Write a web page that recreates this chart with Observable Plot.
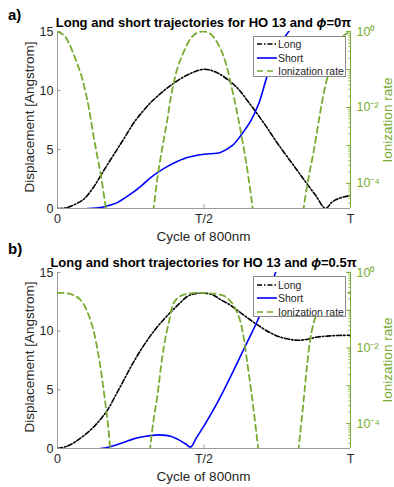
<!DOCTYPE html>
<html><head><meta charset="utf-8">
<script src="https://cdn.jsdelivr.net/npm/d3@7"></script>
<script src="https://cdn.jsdelivr.net/npm/@observablehq/plot@0.6"></script>
<style>
body{margin:0;background:#fff;}
#root{position:relative;width:394px;height:487px;overflow:hidden;font-family:"Liberation Sans",Arial,sans-serif;color:#262626;background:#fff;}
.panel{position:absolute;left:0;width:394px;}
.panel svg{position:absolute;left:0;top:0;}
.lbl{position:absolute;white-space:nowrap;line-height:1;transform:translate(-50%,-50%);}
.rot{transform:translate(-50%,-50%) rotate(-90deg);}
.legend{position:absolute;background:#fff;border:1px solid #8a8a8a;box-sizing:border-box;}
.legend .row{position:absolute;left:1px;height:14px;display:flex;align-items:center;font-size:10.5px;color:#262626;white-space:nowrap;}
</style></head><body><div id="root"></div>
<script>
// ---------- data ----------
const xTicks = [0, 0.5, 1];
const xTickLabels = ["0", "T/2", "T"];
const yTicks = [0, 5, 10, 15];
const rateTicks = [1, 1e-2, 1e-4];
const rateTickLabels = ["10⁰", "10⁻²", "10⁻⁴"];

// Panel a (phi = 0 pi)
const longA_t = [0, 0.033, 0.06, 0.09, 0.12, 0.147, 0.175, 0.204, 0.23, 0.26, 0.29, 0.317, 0.345, 0.374, 0.414, 0.45, 0.5, 0.545, 0.59, 0.62, 0.648, 0.681, 0.715, 0.75, 0.8, 0.841, 0.88, 0.915, 0.935, 0.955, 0.98, 1];
const longA   = [0, 0.08, 0.35, 0.8, 1.7, 2.77, 3.9, 5.03, 6.05, 7.25, 8.2, 8.95, 9.6, 10.2, 10.9, 11.4, 11.8, 11.5, 10.75, 10.05, 9.15, 8.05, 6.85, 5.55, 3.85, 2.45, 1.15, 0, 0.5, 0.8, 1.0, 1.08];
const shortA_t = [0.101, 0.13, 0.147, 0.175, 0.204, 0.23, 0.26, 0.29, 0.317, 0.345, 0.374, 0.414, 0.443, 0.5, 0.556, 0.596, 0.625, 0.659, 0.687, 0.716, 0.75, 0.81];
const shortA   = [0, 0.03, 0.08, 0.25, 0.5, 0.9, 1.4, 2.0, 2.6, 3.1, 3.55, 4.05, 4.33, 4.6, 4.75, 5.32, 6.17, 7.4, 8.9, 11.26, 13.5, 15.7];
// ionization rate: time and log10(rate), one list per lobe
const ionA_t = [
  [0, 0.022, 0.04, 0.056, 0.07, 0.084, 0.096, 0.107, 0.124, 0.135, 0.147, 0.164, 0.172],
  [0.322, 0.329, 0.342, 0.358, 0.374, 0.39, 0.41, 0.43, 0.454, 0.475, 0.5, 0.525, 0.556, 0.575, 0.59, 0.608, 0.625, 0.645, 0.664, 0.672],
  [0.835, 0.841, 0.858, 0.875, 0.895, 0.915, 0.935, 0.955, 0.975, 1]
];
const ionA_log = [
  [0, -0.10, -0.32, -0.62, -0.9, -1.23, -1.6, -2.01, -2.79, -3.25, -3.74, -4.59, -5.0],
  [-5.0, -4.6, -3.8, -3.05, -2.36, -1.6, -0.95, -0.55, -0.19, -0.04, 0, -0.08, -0.45, -0.85, -1.32, -1.95, -2.62, -3.5, -4.52, -5.0],
  [-5.0, -4.6, -3.8, -3.13, -2.2, -1.40, -0.85, -0.42, -0.12, 0]
];

// Panel b (phi = 0.5 pi)
const longB_t = [0, 0.033, 0.06, 0.09, 0.12, 0.147, 0.17, 0.2, 0.23, 0.257, 0.287, 0.317, 0.345, 0.374, 0.414, 0.443, 0.47, 0.5, 0.53, 0.556, 0.585, 0.613, 0.645, 0.681, 0.727, 0.76, 0.806, 0.829, 0.86, 0.886, 0.92, 0.955, 1];
const longB   = [0, 0.2, 0.55, 1.1, 1.75, 2.5, 3.25, 4.6, 6.0, 7.25, 8.5, 9.6, 10.5, 11.3, 12.3, 12.95, 13.2, 13.24, 13.1, 12.7, 12.3, 11.8, 11.2, 10.56, 9.85, 9.5, 9.25, 9.23, 9.35, 9.5, 9.58, 9.63, 9.65];
const shortB_t = [0.147, 0.17, 0.2, 0.23, 0.257, 0.287, 0.317, 0.346, 0.37, 0.386, 0.405, 0.42, 0.438, 0.454, 0.475, 0.5, 0.53, 0.556, 0.6, 0.65, 0.681, 0.71, 0.744, 0.752];
const shortB   = [0, 0.08, 0.3, 0.55, 0.8, 0.98, 1.1, 1.16, 1.12, 1.04, 0.85, 0.65, 0.38, 0.12, 0.95, 1.93, 3.2, 4.4, 6.6, 9.2, 10.8, 12.6, 15, 15.6];
const ionB_t = [
  [0, 0.02, 0.04, 0.06, 0.075, 0.09, 0.107, 0.125, 0.14, 0.152, 0.164, 0.172, 0.179, 0.185],
  [0.312, 0.317, 0.328, 0.34, 0.357, 0.368, 0.38, 0.397, 0.42, 0.454, 0.49, 0.53, 0.568, 0.595, 0.613, 0.625, 0.636, 0.647, 0.664, 0.684, 0.69],
  [0.819, 0.824, 0.841, 0.852, 0.863, 0.875, 0.89, 0.91, 0.935, 0.96, 0.98, 1]
];
const ionB_log = [
  [-0.54, -0.54, -0.56, -0.62, -0.7, -0.85, -1.14, -1.6, -2.2, -2.8, -3.5, -4.0, -4.6, -5.0],
  [-5.0, -4.59, -3.9, -3.31, -2.27, -1.75, -1.32, -0.80, -0.62, -0.55, -0.54, -0.56, -0.62, -0.80, -1.06, -1.32, -1.75, -2.35, -3.31, -4.59, -5.0],
  [-5.0, -4.59, -3.31, -2.44, -1.75, -1.32, -1.0, -0.76, -0.62, -0.56, -0.54, -0.54]
];

// ---------- styling ----------
const GREEN = "#77AC30";
const AXIS = "#9a9a9a";
const FONT = "'Liberation Sans', Arial, sans-serif";
const rateMin = Math.pow(10, -4.66);

const toRows = (t, v) => t.map((x, i) => ({x, y: v[i]}));
const toIon = (T, L) => T.flatMap((seg, s) => seg.map((x, i) => ({x, y: Math.pow(10, L[s][i]), seg: s})));

const minorTicks = [];
for (let d = -5; d < 0; d++) for (let k = 2; k <= 9; k++) { const v = k * Math.pow(10, d); if (v >= rateMin) minorTicks.push(v); }
const decadeTicks = [1, 1e-1, 1e-2, 1e-3, 1e-4];

const root = document.getElementById("root");

function addLabel(html, x, y, css, cls) {
  const el = document.createElement("div");
  el.className = "lbl" + (cls ? " " + cls : "");
  el.innerHTML = html;
  el.style.left = x + "px"; el.style.top = y + "px";
  Object.assign(el.style, css || {});
  root.appendChild(el);
}

function legend(top) {
  const lg = document.createElement("div");
  lg.className = "legend";
  Object.assign(lg.style, {left: "253px", top: top + "px", width: "93px", height: "41px"});
  const items = [
    {name: "Long", stroke: "#000", dash: "5,2,1.5,2"},
    {name: "Short", stroke: "#0000ff", dash: null},
    {name: "Ionization rate", stroke: GREEN, dash: "6,4"}
  ];
  items.forEach((it, i) => {
    const row = document.createElement("div");
    row.className = "row";
    row.style.top = (0.5 + i * 13.5) + "px";
    row.innerHTML = `<svg width="22" height="6" style="position:static;margin-right:1px"><line x1="2" x2="22" y1="3" y2="3" stroke="${it.stroke}" stroke-width="1.6" ${it.dash ? `stroke-dasharray="${it.dash}"` : ""}/></svg><span>${it.name}</span>`;
    lg.appendChild(row);
  });
  root.appendChild(lg);
}

function panel(cfg) {
  const div = document.createElement("div");
  div.className = "panel";
  div.style.top = cfg.top + "px";
  div.style.height = cfg.h + "px";
  root.appendChild(div);
  const common = {
    width: 394, height: cfg.h, marginLeft: 57, marginRight: 44, marginTop: cfg.mt, marginBottom: cfg.mb,
    style: {fontFamily: FONT, fontSize: "12.5px", background: "transparent", color: "#262626", overflow: "visible"}
  };
  const base = Plot.plot({
    ...common,
    x: {domain: [0, 1]},
    y: {domain: [0, 15]},
    marks: [
      Plot.ruleX([0], {stroke: AXIS}),
      Plot.ruleY([0], {stroke: AXIS}),
      Plot.axisX({ticks: xTicks, tickSize: 0, tickPadding: 6, tickFormat: d => xTickLabels[xTicks.indexOf(d)], label: null, fill: "#262626"}),
      Plot.ruleX(xTicks, {y1: 0, y2: 0.3, stroke: AXIS}),
      Plot.axisY({ticks: yTicks, tickSize: 0, tickPadding: 4, label: null, fill: "#262626"}),
      Plot.ruleY(yTicks, {x1: 0, x2: 0.012, stroke: AXIS}),
      Plot.line(toRows(cfg.longT, cfg.long), {x: "x", y: "y", curve: "catmull-rom", stroke: "#000", strokeWidth: 1.6, strokeDasharray: "5,2,1.5,2", clip: true}),
      Plot.line(toRows(cfg.shortT, cfg.short), {x: "x", y: "y", curve: "catmull-rom", stroke: "#0000ff", strokeWidth: 1.6, clip: true})
    ]
  });
  div.appendChild(base);
  const over = Plot.plot({
    ...common,
    x: {domain: [0, 1], axis: null},
    y: {type: "log", domain: [rateMin, 1], axis: null},
    marks: [
      Plot.ruleX([1], {stroke: GREEN}),
      Plot.axisY({anchor: "right", ticks: rateTicks, tickSize: 0, tickPadding: 6, tickFormat: d => rateTickLabels[rateTicks.indexOf(d)], label: null, fill: GREEN}),
      Plot.ruleY(minorTicks, {x1: 0.994, x2: 1, stroke: GREEN, strokeWidth: 0.8}),
      Plot.ruleY(decadeTicks, {x1: 0.987, x2: 1, stroke: GREEN}),
      Plot.line(toIon(cfg.ionT, cfg.ionL), {x: "x", y: "y", z: "seg", curve: "catmull-rom", stroke: GREEN, strokeWidth: 1.8, strokeDasharray: "6,4", clip: true})
    ]
  });
  div.appendChild(over);
}

panel({top: 0, h: 243, mt: 31, mb: 35, longT: longA_t, long: longA, shortT: shortA_t, short: shortA, ionT: ionA_t, ionL: ionA_log});
panel({top: 243, h: 244, mt: 29, mb: 39, longT: longB_t, long: longB, shortT: shortB_t, short: shortB, ionT: ionB_t, ionL: ionB_log});

legend(35.5);
legend(276);

const titleCss = {fontWeight: "bold", fontSize: "13px", color: "#000"};
const axCss = {fontSize: "13.5px", color: "#262626"};
const panCss = {fontWeight: "bold", fontSize: "15px", color: "#000", transform: "translate(0,-50%)"};

addLabel("a)", 8, 14, panCss);
addLabel("Long and short trajectories for HO 13 and <i>ϕ</i>=0π", 203.5, 21.5, titleCss);
addLabel("Displacement [Angstrom]", 30, 117, axCss, "rot");
addLabel("Cycle of 800nm", 203.5, 237, axCss);
addLabel("Ionization rate", 388, 120, {...axCss, color: GREEN}, "rot");

addLabel("b)", 8, 248, panCss);
addLabel("Long and short trajectories for HO 13 and <i>ϕ</i>=0.5π", 203.5, 261.7, titleCss);
addLabel("Displacement [Angstrom]", 30, 357, axCss, "rot");
addLabel("Cycle of 800nm", 203.5, 477, axCss);
addLabel("Ionization rate", 388, 360, {...axCss, color: GREEN}, "rot");
</script></body></html>
